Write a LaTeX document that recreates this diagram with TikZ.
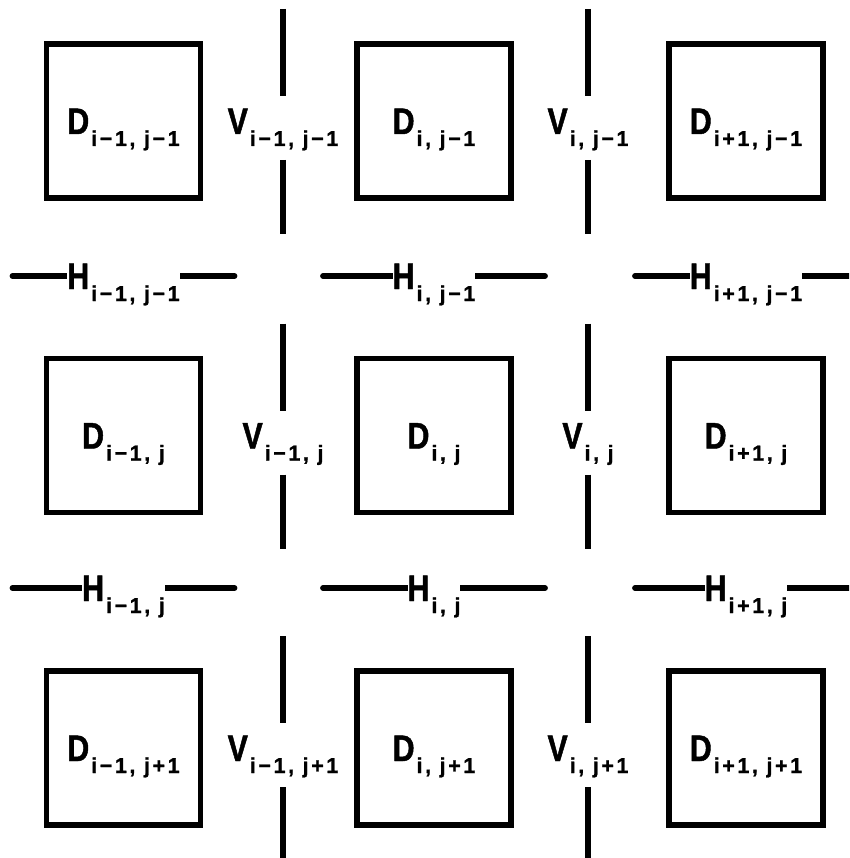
\documentclass[tikz,border=0pt]{standalone}
\usepackage{fontspec}
\newfontfamily\mainlf{Liberation Sans}[FakeStretch=0.82, FakeBold=1.2]
\newfontfamily\sublf{Liberation Sans}[LetterSpace=12, FakeBold=1.0]
\newcommand\glbl[2]{{\mainlf\bfseries\fontsize{37}{37}\selectfont #1}\kern2pt\raisebox{-12pt}{\sublf\bfseries\fontsize{21.5}{21.5}\selectfont #2}}
\begin{document}
\begin{tikzpicture}[x=1pt,y=-1pt,
  cell/.style={draw, line width=5.8pt, minimum size=154pt, inner sep=0pt},
  lab/.style={anchor=base, inner sep=0pt},
  hlab/.style={anchor=base, inner sep=0pt, fill=white},
  wire/.style={line width=5.8pt},
  hwire/.style={line width=5.8pt, line cap=round}]
\useasboundingbox (0,0) rectangle (849,858);
\clip (0,0) rectangle (849,858);
% cells D
\foreach \c/\x/\is in {1/123.5/i−1, 2/434/i, 3/746/i+1}{
  \foreach \r/\y/\js in {1/121/j−1, 2/435.5/j, 3/748/j+1}{
    \node[cell] (B\c\r) at (\x,\y) {};
    \node[lab] (D\c\r) at (\x,\y+13) {\glbl{D}{\is, \js}};
  }
}
% vertical interfaces V
\foreach \c/\x/\is in {1/283/i−1, 2/588/i}{
  \foreach \r/\y/\js in {1/121/j−1, 2/435.5/j, 3/748/j+1}{
    \coordinate (Va\c\r) at (\x,\y-112);
    \coordinate (Vb\c\r) at (\x,\y-25);
    \coordinate (Vc\c\r) at (\x,\y+39);
    \coordinate (Vd\c\r) at (\x,\y+113);
    \draw[wire] (Va\c\r) -- (Vb\c\r) (Vc\c\r) -- (Vd\c\r);
    \node[lab] (V\c\r) at (\x,\y+13) {\glbl{V}{\is, \js}};
  }
}
% horizontal interfaces H
\foreach \c/\x/\is in {1/123.5/i−1, 2/434/i, 3/746/i+1}{
  \foreach \r/\y/\js in {1/276/j−1, 2/588/j}{
    \coordinate (Ha\c\r) at (\x-111,\y);
    \coordinate (Hb\c\r) at (\x+111,\y);
    \draw[hwire] (Ha\c\r) -- (Hb\c\r);
    \node[hlab] (H\c\r) at (\x,\y+13) {\glbl{H}{\is, \js}};
  }
}
\end{tikzpicture}
\end{document}
